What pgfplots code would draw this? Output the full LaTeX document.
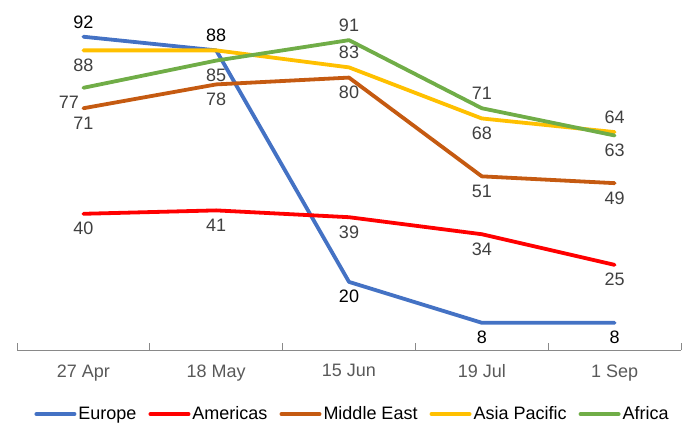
\documentclass[border=0pt]{standalone}
\usepackage{pgfplots}
\pgfplotsset{compat=1.18}
\usepackage{fontspec}
\setmainfont{Liberation Sans}
\definecolor{cEU}{HTML}{4472C4}
\definecolor{cAM}{HTML}{FF0000}
\definecolor{cME}{HTML}{C55A11}
\definecolor{cAP}{HTML}{FFC000}
\definecolor{cAF}{HTML}{70AD47}
\definecolor{lbl}{HTML}{404040}
\definecolor{tickc}{HTML}{595959}
\definecolor{axl}{HTML}{898989}

\pgfplotsset{
  lbl/.style 2 args={
    draw=none, forget plot,
    nodes near coords,
    point meta=explicit symbolic,
    every node near coord/.style={anchor=#1, text=#2, inner sep=6.5bp},
  },
}

\begin{document}
\begin{tikzpicture}[font=\fontsize{18bp}{21bp}\selectfont]
\useasboundingbox (-17bp,-75bp) rectangle (674bp,350bp);
\begin{axis}[
  at={(0,0)}, anchor=south west,
  scale only axis, width=664bp, height=340.5bp,
  xmin=-0.5, xmax=4.5, ymin=0, ymax=100,
  axis x line=bottom, axis y line=none,
  axis line style={draw=axl, line width=1bp, -},
  xtick={0,...,4},
  xticklabels={27 Apr,18 May,15 Jun,19 Jul,1 Sep},
  major tick length=0pt,
  minor xtick={-0.5,0.5,...,4.5},
  minor tick length=7bp,
  tick align=inside,
  every tick/.style={draw=axl, line width=1bp},
  xticklabel style={text=tickc, yshift=-11bp},
  ytick=\empty,
  clip=false,
  legend style={at={(0.5053,-0.1883)}, anchor=center, draw=none, fill=none,
    legend columns=5, font=\fontsize{18bp}{21bp}\selectfont,
    nodes={inner sep=2bp},
    /tikz/every even column/.append style={column sep=10bp},
    inner sep=0pt},
  legend image code/.code={\draw[#1, line width=4bp, line cap=round] (2bp,0bp) -- (40bp,0bp);},
  every axis plot/.append style={line width=3.8bp, line join=round, line cap=round},
]
% lines
\addplot[cEU] coordinates {(0,92) (1,88) (2,20) (3,8) (4,8)};
\addlegendentry{Europe}
\addplot[cAM] coordinates {(0,40) (1,41) (2,39) (3,34) (4,25)};
\addlegendentry{Americas}
\addplot[cME] coordinates {(0,71) (1,78) (2,80) (3,51) (4,49)};
\addlegendentry{Middle East}
\addplot[cAP] coordinates {(0,88) (1,88) (2,83) (3,68) (4,64)};
\addlegendentry{Asia Pacific}
\addplot[cAF] coordinates {(0,77) (1,85) (2,91) (3,71) (4,63)};
\addlegendentry{Africa}
% data labels
\addplot[lbl={south}{black}] coordinates {(0,92) [92] (1,88) [88]};
\addplot[lbl={north}{black}] coordinates {(2,20) [20] (3,8) [8] (4,8) [8]};
\addplot[lbl={north}{lbl}] coordinates {(0,40) [40] (1,41) [41] (2,39) [39] (3,34) [34] (4,25) [25]};
\addplot[lbl={north}{lbl}] coordinates {(0,71) [71] (1,78) [78] (2,80) [80] (3,51) [51] (4,49) [49]};
\addplot[lbl={north}{lbl}] coordinates {(0,88) [88] (3,68) [68]};
\addplot[lbl={south}{lbl}] coordinates {(2,83) [83] (4,64) [64]};
\addplot[lbl={45}{lbl}] coordinates {(0,77) [77]};
\addplot[lbl={north}{lbl}] coordinates {(1,85) [85] (4,63) [63]};
\addplot[lbl={south}{lbl}] coordinates {(2,91) [91] (3,71) [71]};
\end{axis}
\end{tikzpicture}
\end{document}
